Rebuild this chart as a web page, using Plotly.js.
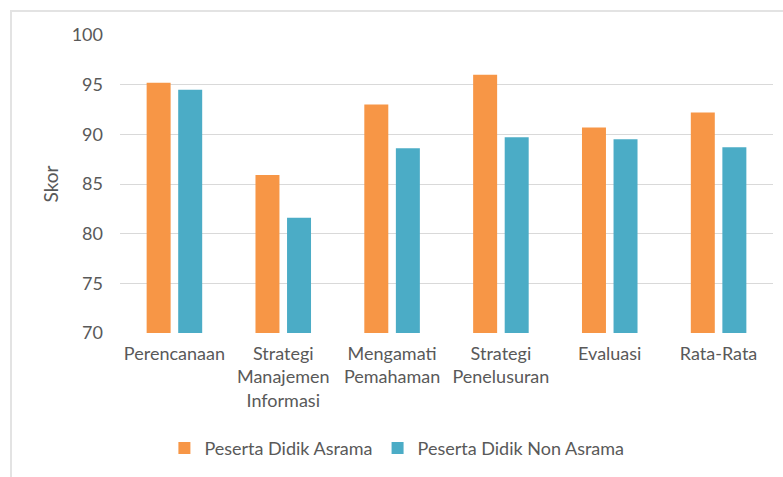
<!DOCTYPE html>
<html><head><meta charset="utf-8">
<script src="https://cdn.plot.ly/plotly-3.0.1.min.js"></script>
<style>
html,body{margin:0;padding:0;background:#fff;}
#frame{position:absolute;left:10px;top:10px;width:790px;height:480px;border-left:2px solid #e3e3e3;border-top:2px solid #e3e3e3;}
#chart{position:absolute;left:0;top:0;width:783px;height:477px;}
</style></head>
<body>
<div id="frame"></div>
<div id="chart"></div>
<script>
var categories = ["Perencanaan", "Strategi<br>Manajemen<br>Informasi", "Mengamati<br>Pemahaman", "Strategi<br>Penelusuran", "Evaluasi", "Rata-Rata"];
var asrama = [95.2, 85.9, 93.0, 96.0, 90.7, 92.2];
var nonAsrama = [94.5, 81.6, 88.6, 89.7, 89.5, 88.7];
var seriesNames = ["Peserta Didik Asrama", "Peserta Didik Non Asrama"];
var yTicks = [70, 75, 80, 85, 90, 95, 100];

var fam = "Lato, Open Sans, sans-serif";
var font = {family: fam, color: "#595959", size: 18};
var data = [
  {type: "bar", x: categories, y: asrama, name: seriesNames[0], marker: {color: "#f79646"}},
  {type: "bar", x: categories, y: nonAsrama, name: seriesNames[1], marker: {color: "#4bacc6"}}
];
var layout = {
  width: 783, height: 477,
  margin: {l: 120, r: 10, t: 35, b: 142},
  paper_bgcolor: "rgba(0,0,0,0)", plot_bgcolor: "rgba(0,0,0,0)",
  font: font,
  barmode: "group", bargap: 0.42, bargroupgap: 0.24,
  xaxis: {tickfont: {family: fam, size: 18, color: "#595959"}, showline: false, ticks: "", automargin: false,
          ticklabelstandoff: 8},
  yaxis: {range: [70, 100], tickvals: yTicks, gridcolor: "#d9d9d9", gridwidth: 1, zeroline: false,
          tickfont: {family: fam, size: 18, color: "#595959"}, ticks: "", ticklen: 0, automargin: false,
          ticklabelstandoff: 16,
          title: {text: "Skor", font: {family: fam, size: 19, color: "#595959"}, standoff: 8}},
  showlegend: true,
  legend: {orientation: "h", x: 0.068, xanchor: "left", y: -0.387, yanchor: "middle",
           font: {family: fam, size: 18, color: "#595959"}, itemwidth: 30, traceorder: "normal"}
};
Plotly.newPlot("chart", data, layout, {displayModeBar: false, staticPlot: true});
</script>
</body></html>
